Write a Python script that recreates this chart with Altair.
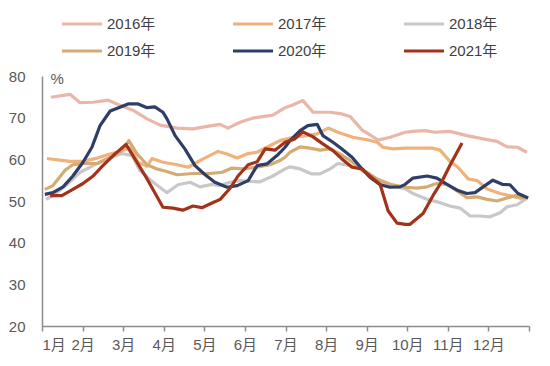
import altair as alt
import pandas as pd

years = ["2016年", "2017年", "2018年", "2019年", "2020年", "2021年"]
colors = ["#EBB6AA", "#F0B27A", "#C8C8C8", "#D4AB74", "#2F3E66", "#A2331A"]
widths = [3.2, 3.2, 3.2, 3.2, 3.2, 5]
month_labels = ["1月", "2月", "3月", "4月", "5月", "6月", "7月", "8月", "9月", "10月", "11月", "12月"]

# x: position in months since 1 Jan; y: percent
x2016 = [0.22, 0.69, 0.94, 1.26, 1.63, 1.92, 2.24, 2.59, 2.91, 3.33, 3.72, 4.07, 4.39, 4.58, 4.88, 5.20, 5.69, 5.99, 6.16, 6.43, 6.68, 7.10, 7.39, 7.59, 7.89, 8.08, 8.28, 8.58, 8.95, 9.14, 9.44, 9.68, 10.05, 10.47, 10.87, 11.21, 11.46, 11.71, 11.95]
y2016 = [74.9, 75.6, 73.6, 73.7, 74.2, 73.0, 71.8, 69.7, 68.2, 67.5, 67.3, 67.9, 68.4, 67.5, 68.9, 69.9, 70.6, 72.4, 73.0, 74.1, 71.3, 71.3, 70.9, 70.3, 67.0, 65.9, 64.6, 65.3, 66.5, 66.7, 66.9, 66.5, 66.7, 65.7, 64.9, 64.3, 63.0, 62.9, 61.7]

x2017 = [0.12, 0.44, 0.69, 1.01, 1.36, 1.68, 2.00, 2.17, 2.37, 2.59, 2.71, 2.98, 3.33, 3.60, 3.97, 4.34, 4.56, 4.81, 5.05, 5.30, 5.54, 5.86, 6.19, 6.53, 6.78, 7.05, 7.29, 7.66, 8.01, 8.26, 8.40, 8.65, 8.95, 9.24, 9.61, 9.81, 10.05, 10.25, 10.50, 10.72, 10.97, 11.29, 11.53, 11.85, 11.95]
y2017 = [60.2, 59.8, 59.5, 59.5, 60.3, 61.3, 62.2, 62.8, 59.3, 58.3, 60.2, 59.3, 58.7, 58.1, 60.1, 61.9, 61.3, 60.3, 61.3, 61.7, 62.9, 64.5, 65.3, 65.7, 66.1, 67.5, 66.5, 65.3, 64.7, 64.1, 62.9, 62.5, 62.7, 62.7, 62.7, 62.2, 59.5, 58.1, 55.3, 54.9, 52.9, 51.8, 51.3, 50.5, 50.5]

x2018 = [0.10, 0.32, 0.62, 0.94, 1.26, 1.60, 1.97, 2.22, 2.41, 2.74, 3.08, 3.35, 3.65, 3.89, 4.19, 4.39, 4.63, 4.88, 5.13, 5.37, 5.69, 5.99, 6.11, 6.36, 6.65, 6.85, 7.10, 7.29, 7.59, 7.84, 8.08, 8.33, 8.65, 8.95, 9.14, 9.49, 9.81, 10.05, 10.30, 10.55, 10.79, 11.04, 11.29, 11.46, 11.71, 11.90]
y2018 = [50.4, 51.6, 54.0, 56.9, 58.5, 60.1, 61.4, 60.9, 57.3, 54.5, 52.0, 53.9, 54.5, 53.4, 54.0, 53.7, 54.5, 54.9, 54.7, 54.6, 56.0, 57.7, 58.2, 57.7, 56.5, 56.5, 57.7, 59.0, 58.5, 57.7, 56.5, 54.5, 53.7, 52.9, 51.8, 50.4, 49.6, 48.8, 48.3, 46.4, 46.4, 46.2, 47.2, 48.6, 49.1, 50.4]

x2019 = [0.07, 0.27, 0.57, 0.76, 1.01, 1.36, 1.68, 1.97, 2.14, 2.34, 2.59, 2.83, 3.03, 3.33, 3.72, 4.14, 4.44, 4.68, 4.95, 5.30, 5.62, 5.86, 5.99, 6.11, 6.36, 6.60, 6.85, 7.10, 7.34, 7.66, 7.91, 8.26, 8.58, 8.95, 9.24, 9.49, 9.73, 9.98, 10.23, 10.47, 10.72, 10.97, 11.21, 11.46, 11.66, 11.90]
y2019 = [52.8, 53.7, 57.4, 58.7, 59.0, 59.0, 60.5, 62.1, 64.5, 61.3, 58.7, 57.7, 57.2, 56.3, 56.6, 56.6, 56.9, 57.9, 57.7, 58.1, 58.7, 59.7, 60.5, 61.7, 63.0, 62.7, 62.2, 62.5, 61.3, 59.3, 57.2, 55.3, 54.0, 53.3, 53.1, 53.4, 54.2, 54.0, 52.4, 50.8, 51.0, 50.4, 50.0, 50.7, 51.3, 50.7]

x2020 = [0.07, 0.27, 0.52, 0.76, 1.01, 1.23, 1.43, 1.68, 1.92, 2.12, 2.37, 2.59, 2.78, 2.98, 3.08, 3.28, 3.52, 3.77, 4.02, 4.26, 4.56, 4.81, 5.08, 5.30, 5.54, 5.79, 5.99, 6.11, 6.36, 6.55, 6.78, 6.92, 7.17, 7.39, 7.64, 7.84, 8.08, 8.33, 8.58, 8.82, 8.95, 9.14, 9.49, 9.73, 9.98, 10.23, 10.47, 10.67, 10.87, 11.11, 11.34, 11.53, 11.73, 11.98]
y2020 = [51.6, 52.0, 53.4, 56.0, 59.3, 62.9, 68.1, 71.6, 72.5, 73.3, 73.3, 72.4, 72.6, 71.3, 69.7, 65.7, 62.5, 58.5, 56.3, 54.5, 53.3, 53.7, 54.9, 58.5, 58.9, 60.9, 62.9, 64.5, 66.9, 68.1, 68.4, 65.7, 64.1, 62.5, 60.5, 58.2, 55.7, 53.9, 53.3, 53.4, 54.0, 55.5, 56.0, 55.5, 54.0, 52.6, 51.8, 52.0, 53.4, 55.0, 54.0, 53.9, 51.8, 50.7]

x2021 = [0.20, 0.49, 0.76, 1.01, 1.26, 1.50, 1.80, 2.07, 2.34, 2.59, 2.78, 2.98, 3.23, 3.47, 3.72, 3.94, 4.19, 4.39, 4.63, 4.83, 5.08, 5.30, 5.50, 5.74, 5.99, 6.23, 6.43, 6.68, 6.92, 7.17, 7.39, 7.64, 7.89, 8.08, 8.33, 8.53, 8.75, 8.95, 9.07, 9.39, 9.64, 9.86, 10.05, 10.35]
y2021 = [51.3, 51.3, 52.8, 54.2, 56.0, 58.5, 61.3, 63.6, 59.3, 55.3, 52.0, 48.5, 48.3, 47.8, 48.8, 48.4, 49.5, 50.4, 53.0, 56.0, 58.7, 59.4, 62.5, 62.2, 64.1, 64.9, 66.6, 65.4, 63.7, 62.1, 60.1, 58.1, 57.7, 56.0, 54.0, 47.6, 44.7, 44.4, 44.4, 47.0, 51.4, 54.8, 58.5, 63.9]

series = [(years[0], x2016, y2016), (years[1], x2017, y2017), (years[2], x2018, y2018),
          (years[3], x2019, y2019), (years[4], x2020, y2020), (years[5], x2021, y2021)]
rows = []
for name, xs, ys in series:
    for i, (a, b) in enumerate(zip(xs, ys)):
        rows.append({"year": name, "m": a, "v": b, "i": i})
df = pd.DataFrame(rows)

FONT = "Liberation Sans, Arial, Noto Sans CJK SC"
label_expr = "datum.value < 12 ? ['1月','2月','3月','4月','5月','6月','7月','8月','9月','10月','11月','12月'][datum.value] : ''"

legend = alt.Legend(title=None, orient="none", direction="horizontal",
                    legendX=28, legendY=-64,
                    columns=3, symbolType="M-2,0H2", symbolSize=400,
                    columnPadding=70, rowPadding=7,
                    labelFont=FONT, labelFontSize=15, labelColor="#404040",
                    labelOffset=13, padding=0)

chart = alt.Chart(df).mark_line(strokeJoin="round", strokeCap="butt").encode(
    x=alt.X("m:Q", scale=alt.Scale(domain=[0, 12], nice=False, zero=False),
            axis=alt.Axis(values=list(range(13)), labelExpr=label_expr, title=None,
                          grid=False, tickSize=5, tickColor="#8C8C8C", domainColor="#8C8C8C",
                          domainWidth=1.5, tickWidth=1.5,
                          labelColor="#595959", labelFontSize=15, labelFont=FONT,
                          labelPadding=6, labelAngle=0)),
    y=alt.Y("v:Q", scale=alt.Scale(domain=[20, 80], nice=False),
            axis=alt.Axis(values=[20, 30, 40, 50, 60, 70, 80], title="%", titleAngle=0,
                          titleX=8, titleY=2, titleAlign="left", titleBaseline="middle",
                          titleFont=FONT, titleFontSize=15, titleFontWeight="normal",
                          titleColor="#595959",
                          grid=False, ticks=False, domainColor="#8C8C8C", domainWidth=1.5,
                          labelColor="#595959", labelFontSize=15, labelFont=FONT,
                          labelPadding=17)),
    color=alt.Color("year:N", scale=alt.Scale(domain=years, range=colors), legend=legend),
    strokeWidth=alt.StrokeWidth("year:N", scale=alt.Scale(domain=years, range=widths), legend=legend),
    order="i:Q",
).properties(
    width=487, height=250,
    autosize=alt.AutoSizeParams(type="none"),
    padding={"left": 34, "top": 68, "right": 13, "bottom": 32},
).configure_view(stroke=None)

chart.save("out.html", embed_options={"renderer": "svg", "actions": False})
